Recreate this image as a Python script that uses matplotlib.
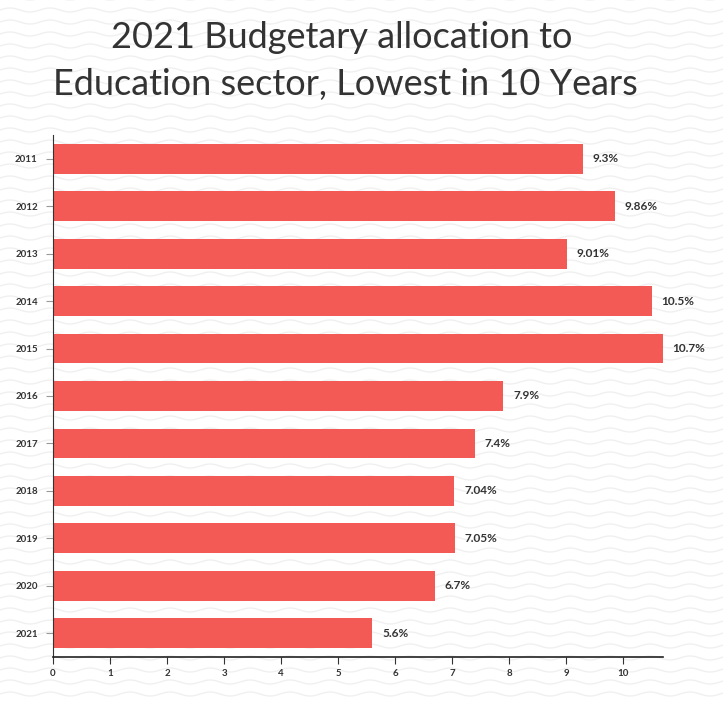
import numpy as np
import matplotlib.pyplot as plt

years = ['2011', '2012', '2013', '2014', '2015', '2016', '2017', '2018', '2019', '2020', '2021']
shares = [9.3, 9.86, 9.01, 10.5, 10.7, 7.9, 7.4, 7.04, 7.05, 6.7, 5.6]
labels = ['9.3%', '9.86%', '9.01%', '10.5%', '10.7%', '7.9%', '7.4%', '7.04%', '7.05%', '6.7%', '5.6%']

fig = plt.figure(figsize=(7.23, 7.01), dpi=100)
fig.patch.set_facecolor('white')

# fondo ondulado
bg = fig.add_axes([0, 0, 1, 1], zorder=-1)
bg.set_xlim(0, 723)
bg.set_ylim(0, 701)
bg.axis('off')
xs = np.linspace(0, 723, 600)
for y0 in np.arange(-5, 710, 12):
    bg.plot(xs, y0 + 2.0 * np.sin(xs / 40 * 2 * np.pi), color='#f0f0f0', lw=1.0)

ax = fig.add_axes([53 / 723, 1 - 657 / 701, 610 / 723, 522 / 701])
ax.patch.set_alpha(0)
pos = np.arange(len(years))
ax.barh(pos, shares, height=0.63, color='#f45a55', zorder=2)
for p, v, t in zip(pos, shares, labels):
    ax.text(v + 0.17, p, t, va='center', ha='left', fontsize=8.5, fontweight='bold',
            color='#333333', family='Lato')

ax.set_yticks(pos)
ax.set_yticklabels(years, fontsize=7, fontweight='bold', color='#333333', family='Lato')
ax.set_ylim(len(years) - 0.5, -0.5)
ax.set_xlim(0, 10.7)
ax.set_xticks(range(0, 11))
ax.set_xticklabels([str(i) for i in range(11)], fontsize=7, fontweight='bold',
                   color='#333333', family='Lato')
ax.tick_params(axis='y', length=5, color='#999999', pad=6)
ax.tick_params(axis='x', length=5, color='#333333', pad=4)
for s in ['top', 'right']:
    ax.spines[s].set_visible(False)
ax.spines['left'].set_color('#333333')
ax.spines['bottom'].set_color('#222222')
ax.spines['bottom'].set_linewidth(1.2)

fig.text(0.472, 1 - 38 / 701, '2021 Budgetary allocation to', ha='center', va='center',
         fontsize=26, color='#333333', family='Lato')
fig.text(0.478, 1 - 84 / 701, 'Education sector, Lowest in 10 Years', ha='center', va='center',
         fontsize=26, color='#333333', family='Lato')

fig.savefig('out.png', dpi=100)
